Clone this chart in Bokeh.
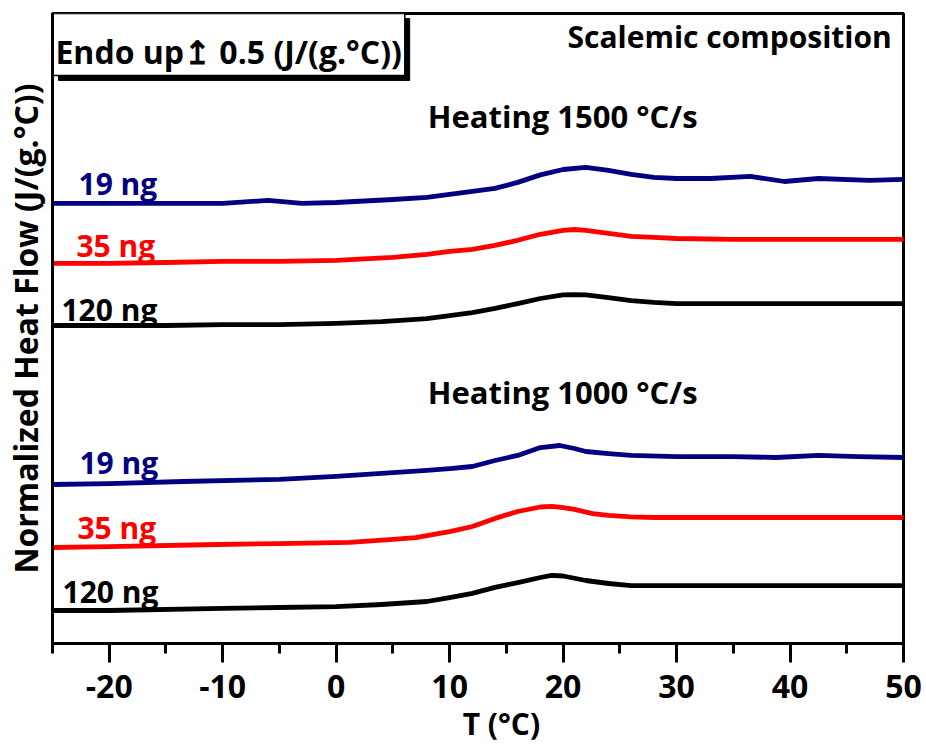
from bokeh.plotting import figure
from bokeh.models import Label, FixedTicker, Range1d
from bokeh.embed import file_html
from bokeh.resources import INLINE

# ---------------- data ----------------
# Temperatures (°C) and normalized heat flow relative to each curve's start, J/(g.°C)
T_1500_19 = [-25, -20, -15, -10, -6, -3, 0, 5, 8, 10, 12, 14, 16, 18, 20, 22, 24, 26, 28, 30, 33, 36.5, 39.5, 42.5, 47, 50]
HF_1500_19 = [0, 0, 0, 0, 0.10, 0, 0.03, 0.13, 0.20, 0.30, 0.40, 0.50, 0.70, 0.95, 1.13, 1.20, 1.10, 0.97, 0.87, 0.83, 0.83, 0.90, 0.73, 0.83, 0.77, 0.80]

T_1500_35 = [-25, -20, -15, -10, -5, 0, 5, 8, 10, 12, 14, 16, 18, 20, 21, 22, 24, 26, 28, 30, 35, 40, 45, 50]
HF_1500_35 = [0, 0, 0.03, 0.07, 0.07, 0.10, 0.20, 0.30, 0.40, 0.47, 0.60, 0.77, 0.97, 1.10, 1.13, 1.10, 1.00, 0.90, 0.87, 0.83, 0.80, 0.80, 0.80, 0.80]

T_1500_120 = [-25, -20, -15, -10, -5, 0, 4, 8, 10, 12, 14, 16, 18, 20, 21, 22, 24, 26, 28, 30, 35, 40, 45, 50]
HF_1500_120 = [0, 0, 0, 0.03, 0.03, 0.07, 0.13, 0.23, 0.33, 0.43, 0.57, 0.73, 0.90, 1.02, 1.03, 1.02, 0.93, 0.83, 0.77, 0.73, 0.73, 0.73, 0.73, 0.73]

T_1000_19 = [-25, -20, -13.5, -5, 0, 4, 8, 10, 12, 14, 16, 18, 19.7, 21, 22, 24, 26, 30, 35, 38.8, 42.5, 46, 50]
HF_1000_19 = [0, 0.03, 0.10, 0.17, 0.27, 0.37, 0.47, 0.53, 0.60, 0.80, 0.97, 1.23, 1.30, 1.20, 1.10, 1.03, 0.97, 0.93, 0.93, 0.90, 0.97, 0.93, 0.90]

T_1000_35 = [-25, -20, -10.5, -5, 1.2, 5, 7, 10, 12, 14, 16, 18, 19, 20, 21, 22.6, 24, 26, 28, 35, 40, 45, 50]
HF_1000_35 = [0, 0.03, 0.10, 0.13, 0.17, 0.27, 0.33, 0.53, 0.70, 0.97, 1.20, 1.35, 1.37, 1.33, 1.27, 1.13, 1.07, 1.02, 1.00, 1.00, 1.00, 1.00, 1.00]

T_1000_120 = [-25, -20, -10, -5, 0, 4, 8, 10, 12, 14, 16, 18, 19, 20, 22, 24, 26, 30, 40, 50]
HF_1000_120 = [0, 0, 0.07, 0.10, 0.13, 0.20, 0.30, 0.43, 0.57, 0.77, 0.93, 1.10, 1.17, 1.15, 1.00, 0.90, 0.83, 0.83, 0.83, 0.83]

# vertical offsets used to stack the curves
OFFSETS = {"1500_19": 14.67, "1500_35": 12.67, "1500_120": 10.6,
           "1000_19": 5.3, "1000_35": 3.2, "1000_120": 1.1}
MASSES = ["19 ng", "35 ng", "120 ng"]
COLORS = ["#000080", "#FF0000", "#000000"]

X_TICKS = [-20, -10, 0, 10, 20, 30, 40, 50]
X_TICK_LABELS = ["-20", "-10", "0", "10", "20", "30", "40", "50"]
X_MINOR_TICKS = [-25, -15, -5, 5, 15, 25, 35, 45]

FONT = "Open Sans"

p = figure(width=922, height=746, output_backend="svg", toolbar_location=None,
           x_range=Range1d(-25, 50), y_range=Range1d(0, 21),
           min_border_left=52, min_border_right=19, min_border_top=13, min_border_bottom=103)
p.background_fill_color = "white"
p.border_fill_color = "white"
p.outline_line_color = "black"
p.outline_line_width = 3
p.xgrid.visible = False
p.ygrid.visible = False

# x axis
p.xaxis.ticker = FixedTicker(ticks=X_TICKS, minor_ticks=X_MINOR_TICKS)
p.xaxis.major_label_overrides = dict(zip(X_TICKS, X_TICK_LABELS))
p.xaxis.axis_line_width = 3
p.xaxis.major_tick_line_width = 3
p.xaxis.minor_tick_line_width = 3
p.xaxis.major_tick_in = 0
p.xaxis.major_tick_out = 19
p.xaxis.minor_tick_in = 0
p.xaxis.minor_tick_out = 10
p.xaxis.major_label_text_font = FONT
p.xaxis.major_label_text_font_style = "bold"
p.xaxis.major_label_text_font_size = "32px"
p.xaxis.major_label_text_color = "black"
p.xaxis.major_label_standoff = 12
p.xaxis.axis_label = "\u00a0" * 6 + "T (°C)"
p.xaxis.axis_label_text_font = FONT
p.xaxis.axis_label_text_font_style = "bold"
p.xaxis.axis_label_text_font_size = "30px"
p.xaxis.axis_label_text_color = "black"
p.xaxis.axis_label_standoff = 2

# y axis
p.yaxis.ticker = FixedTicker(ticks=[])
p.yaxis.axis_line_width = 3
p.yaxis.major_tick_line_color = None
p.yaxis.minor_tick_line_color = None
p.yaxis.axis_label = "Normalized Heat Flow (J/(g.°C))"
p.yaxis.axis_label_text_font = FONT
p.yaxis.axis_label_text_font_style = "bold"
p.yaxis.axis_label_text_font_size = "32px"
p.yaxis.axis_label_text_color = "black"
p.yaxis.axis_label_standoff = 6

# curves
series = [
    (T_1500_19, HF_1500_19, "1500_19", COLORS[0]),
    (T_1500_35, HF_1500_35, "1500_35", COLORS[1]),
    (T_1500_120, HF_1500_120, "1500_120", COLORS[2]),
    (T_1000_19, HF_1000_19, "1000_19", COLORS[0]),
    (T_1000_35, HF_1000_35, "1000_35", COLORS[1]),
    (T_1000_120, HF_1000_120, "1000_120", COLORS[2]),
]
for t, hf, key, col in series:
    p.line(t, [v + OFFSETS[key] for v in hf], line_color=col, line_width=4.8,
           line_join="round", line_cap="round")

def lab(x, y, text, color="black", align="left", size="30px"):
    p.add_layout(Label(x=x, y=y, text=text, text_font=FONT, text_font_style="bold",
                       text_font_size=size, text_color=color, text_align=align,
                       text_baseline="middle"))

# curve labels
label_x = [-22.71, -22.89, -24.21]
label_y_1500 = [15.32, 13.27, 11.15]
label_x_1000 = [-22.63, -22.8, -24.12]
label_y_1000 = [6.02, 3.87, 1.75]
for m, c, x, y in zip(MASSES, COLORS, label_x, label_y_1500):
    lab(x, y, m, c)
for m, c, x, y in zip(MASSES, COLORS, label_x_1000, label_y_1000):
    lab(x, y, m, c)

lab(8.07, 17.6, "Heating 1500 °C/s", size="31px")
lab(8.07, 8.37, "Heating 1000 °C/s", size="31px")
lab(48.97, 20.23, "Scalemic composition", align="right")

# scale box with shadow
p.quad(left=[-24.47], right=[6.48], top=[20.83], bottom=[18.77], fill_color="black", line_color="black")
p.quad(left=[-25], right=[6.05], top=[21], bottom=[18.93], fill_color="white",
       line_color="black", line_width=1.5)
lab(-24.74, 19.73, "Endo up\u21a5 0.5 (J/(g.°C))", size="32px")

open("out.html", "w").write(file_html(p, INLINE))
